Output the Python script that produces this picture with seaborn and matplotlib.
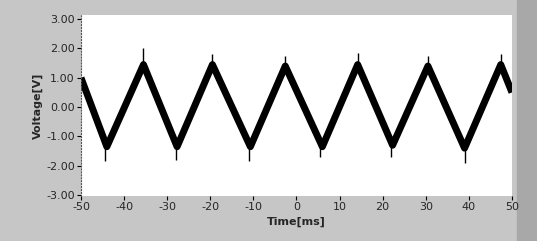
import numpy as np
import pandas as pd
import matplotlib
matplotlib.use("Agg")
import matplotlib.pyplot as plt
import seaborn as sns

# turning points of the waveform (ms, V)
time_ms = [-50, -44.0, -35.5, -27.7, -19.5, -10.7, -2.6, 6.0, 14.2, 22.3, 30.5, 39.0, 47.4, 50]
voltage = [1.0, -1.35, 1.45, -1.35, 1.45, -1.35, 1.40, -1.35, 1.45, -1.30, 1.40, -1.40, 1.45, 0.5]

# noise spikes at the turning points (from, to)
spike_t = [-44.5, -35.5, -28.0, -19.5, -11.0, -2.6, 5.5, 14.2, 22.0, 30.5, 39.2, 47.4]
spike_lo = [-1.35, 1.45, -1.35, 1.45, -1.35, 1.40, -1.35, 1.45, -1.30, 1.40, -1.40, 1.45]
spike_hi = [-1.85, 2.00, -1.80, 1.80, -1.85, 1.75, -1.70, 1.85, -1.70, 1.75, -1.90, 1.80]

x_ticks = [-50, -40, -30, -20, -10, 0, 10, 20, 30, 40, 50]
y_ticks = [3.0, 2.0, 1.0, 0.0, -1.0, -2.0, -3.0]

FONT_SIZE = 8

sns.set_theme(style="white")
plt.rcParams['font.family'] = ['DejaVu Sans']
plt.rcParams['axes.unicode_minus'] = False

data = pd.DataFrame({'Time': time_ms, 'Voltage': voltage})

fig = plt.figure(figsize=(5.37, 2.41), dpi=100)
fig.patch.set_facecolor('#c6c6c6')
# darker frame at the right edge
fig.patches.append(plt.Rectangle((0.962, 0), 0.038, 1, transform=fig.transFigure,
                                 color='#a8a8a8', zorder=-1))

ax = fig.add_axes([0.1508, 0.1867, 0.8026, 0.7511])
ax.set_facecolor('white')

sns.lineplot(data=data, x='Time', y='Voltage', ax=ax, color='black', linewidth=5,
             solid_joinstyle='round', solid_capstyle='butt')
ax.vlines(spike_t, spike_lo, spike_hi, color='black', linewidth=1.0)

ax.set_xlim(-50, 50)
ax.set_ylim(-3.03, 3.14)
ax.set_xticks(x_ticks)
ax.set_yticks(y_ticks)
ax.set_yticklabels(['%.2f' % v for v in y_ticks], fontsize=FONT_SIZE)
ax.set_xticklabels([str(v) for v in x_ticks], fontsize=FONT_SIZE)
ax.tick_params(axis='both', direction='out', length=3, width=0.8, color='black',
               pad=1.5, bottom=True, left=True)

ax.set_xlabel('Time[ms]', fontsize=FONT_SIZE, fontweight='bold', labelpad=3)
ax.set_ylabel('Voltage[V]', fontsize=FONT_SIZE, fontweight='bold', labelpad=2)

for side in ['top', 'right', 'bottom']:
    ax.spines[side].set_visible(False)
ax.spines['left'].set_color('#555555')
ax.spines['left'].set_linestyle(':')
ax.spines['left'].set_linewidth(0.8)

fig.savefig('out.png', dpi=100, facecolor=fig.get_facecolor())
